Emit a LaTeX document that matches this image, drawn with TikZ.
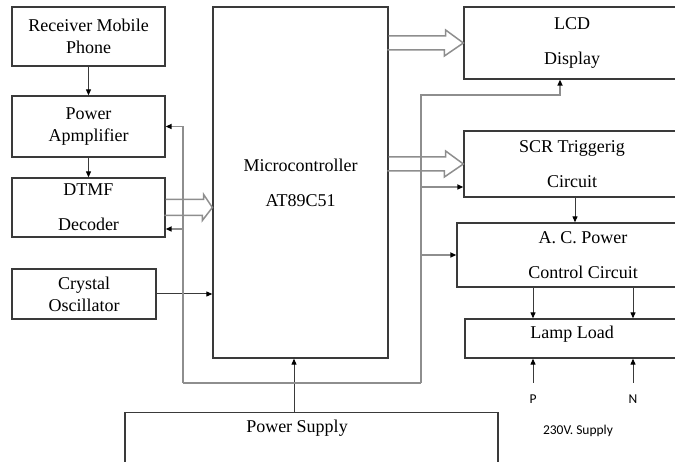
\documentclass[tikz,border=0pt]{standalone}
\usepackage{fontspec}
\setmainfont{Liberation Serif}
\newfontfamily\supplyfont{Carlito}
\usetikzlibrary{arrows.meta}
\definecolor{boxgray}{HTML}{3A3A3A}
\definecolor{linegray}{HTML}{8E8E8E}
\tikzset{
  blk/.style={draw=boxgray, line width=1.3pt, align=center, inner sep=0pt,
    font=\fontsize{18}{22}\selectfont},
  arr/.style={draw=boxgray, line width=1pt, -{Triangle[length=6pt,width=5pt,color=black]}},
  garr/.style={draw=linegray, line width=1.5pt, -{Triangle[length=6pt,width=5pt,color=black]}},
  gline/.style={draw=linegray, line width=1.5pt},
  hollow/.style={draw=linegray, line width=1.5pt, line join=miter},
  supply/.style={font=\supplyfont\fontsize{13.5}{16}\selectfont, inner sep=0pt}
}
\begin{document}
\begin{tikzpicture}[x=1pt,y=-1pt]
  \useasboundingbox (0,0) rectangle (675,462);
  \clip (0,0) rectangle (675,462);
  % blocks
  \node[blk, minimum width=153, minimum height=59] (rx) at (88.5,36.5) {Receiver Mobile\\Phone};
  \node[blk, minimum width=153, minimum height=61] (amp) at (88.5,126.5) {Power\\Apmplifier};
  \node[blk, minimum width=153, minimum height=59] (dtmf) at (88.5,207.5) {DTMF\\[13pt]Decoder};
  \node[blk, minimum width=144, minimum height=50] (xtal) at (84,294) {Crystal\\Oscillator};
  \node[blk, minimum width=175, minimum height=351] (mcu) at (300.5,182.5) {Microcontroller\\[13pt]AT89C51};
  \node[blk, minimum width=216, minimum height=72] (lcd) at (572,43) {LCD\\[13pt]Display};
  \node[blk, minimum width=216, minimum height=66] (scr) at (572,164) {SCR Triggerig\\[13pt]Circuit};
  \node[blk, minimum width=252, minimum height=64] (ac) at (583,255) {A. C. Power\\[13pt]Control Circuit};
  \node[blk, minimum width=214, minimum height=39, text depth=13pt] (lamp) at (572,338.5) {Lamp Load};
  \node[blk, minimum width=373, minimum height=80, anchor=north] (ps) at (311.5,412) {};
  \node[blk, draw=none] (pstext) at (297,428) {Power Supply};
  % mains
  \coordinate (pin) at (533,383);
  \coordinate (nin) at (633,383);
  \node[supply] (p) at (533,399) {P};
  \node[supply] (n) at (633,399) {N};
  \node[supply] (mains) at (578,431) {230V. Supply};
  % feedback bus
  \coordinate (fbl) at (183,383);
  \coordinate (fbr) at (421,383);
  \coordinate (psin) at (294,412);
  \begin{scope}
    \draw[arr] (rx) -- (amp);
    \draw[arr] (amp) -- (dtmf);
    \draw[arr] (xtal.east) -- (xtal.east -| mcu.west);
    \draw[arr] (psin) -- (psin |- mcu.south);
    \draw[arr] (scr.south -| 575,0) -- (ac.north -| 575,0);
    \draw[arr] (ac.south -| pin) -- (lamp.north -| pin);
    \draw[arr] (ac.south -| nin) -- (lamp.north -| nin);
    \draw[arr] (pin) -- (lamp.south -| pin);
    \draw[arr] (nin) -- (lamp.south -| nin);
  \end{scope}
  \begin{scope}
    \draw[garr] (fbl) |- (amp.east);
    \draw[garr] (fbl |- 0,229) -- (dtmf.east |- 0,229);
    \draw[gline] (fbl) -- (fbr);
    \draw[garr] (fbr) |- (560,95) -- (lcd.south -| 560,0);
    \draw[garr] (fbr |- 0,187) -- (scr.west |- 0,187);
    \draw[garr] (fbr |- ac.west) -- (ac.west);
  \end{scope}
  % data buses
  \draw[hollow] (dtmf.east) ++(0,-8) -- ++(38,0) -- ++(0,-5) -- (mcu.west |- dtmf.east)
    -- ++(-10,13) -- ++(0,-5) -- ++(-38,0);
  \draw[hollow] (mcu.east |- lcd.west) ++(0,-7) -- ++(57,0) -- ++(0,-6) -- (lcd.west)
    -- ++(-19,13) -- ++(0,-6) -- ++(-57,0);
  \draw[hollow] (mcu.east |- scr.west) ++(0,-7) -- ++(57,0) -- ++(0,-6) -- (scr.west)
    -- ++(-19,13) -- ++(0,-6) -- ++(-57,0);
\end{tikzpicture}
\end{document}
